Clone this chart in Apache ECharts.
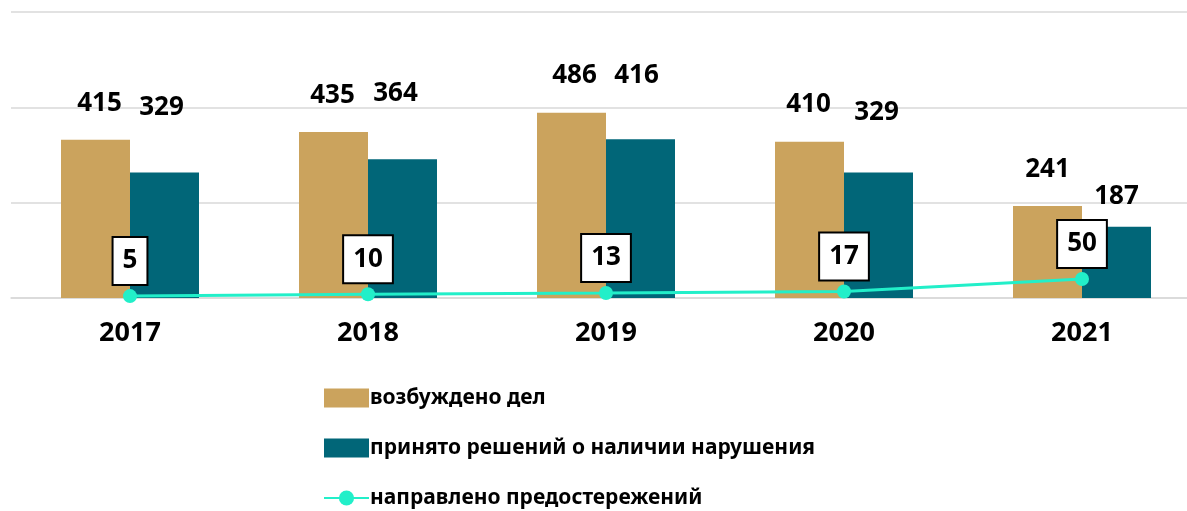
<!DOCTYPE html>
<html>
<head>
<meta charset="utf-8">
<script src="https://cdn.jsdelivr.net/npm/echarts@6/dist/echarts.min.js"></script>
<style>
  html, body { margin: 0; padding: 0; background: #fff; }
  #chart { width: 1187px; height: 511px; }
</style>
</head>
<body>
<div id="chart"></div>
<script>
// данные
const years = ['2017', '2018', '2019', '2020', '2021']
const casesOpened = [415, 435, 486, 410, 241]
const violationDecisions = [329, 364, 416, 329, 187]
const warningsIssued = [5, 10, 13, 17, 50]
const yTicks = [0, 250, 500, 750]

// ручные сдвиги подписей (как в исходнике)
const tanLabelShift = [[4, 23], [-1, 24], [3, 24], [-1, 24], [0, 24]]
const tealLabelShift = [[-3, 52], [-7, 53], [-4, 51], [-2, 47], [0, 17]]

const labelFont = { fontFamily: 'Noto Sans', fontWeight: 'bold', fontSize: 26, color: '#000' }

function barItems (values, shifts) {
  return values.map((v, i) => ({
    value: v,
    label: { distance: shifts[i][1], offset: [shifts[i][0], 0] }
  }))
}

let chart = echarts.init(document.getElementById('chart'))
chart.setOption({
  animation: false,
  grid: { left: 11, right: -14, top: 12, bottom: 213, outerBoundsMode: 'none', containLabel: false },
  legend: {
    orient: 'vertical',
    left: 318,
    top: 379,
    height: 200,
    itemWidth: 45,
    itemHeight: 19,
    itemGap: 22,
    textStyle: { fontFamily: 'Noto Sans', fontWeight: 'bold', fontSize: 21, lineHeight: 28, color: '#000', padding: [0, 0, 0, -4] },
    data: [
      { name: 'возбуждено дел', icon: 'rect' },
      { name: 'принято решений о наличии нарушения', icon: 'rect' },
      { name: 'направлено предостережений' }
    ]
  },
  xAxis: {
    type: 'category',
    data: years,
    axisLine: { show: true, lineStyle: { color: '#d9d9d9', width: 1.5 } },
    axisTick: { show: false },
    axisLabel: { margin: 22, fontFamily: 'Noto Sans', fontWeight: 'bold', fontSize: 27, color: '#000' }
  },
  yAxis: {
    type: 'value',
    min: yTicks[0],
    max: yTicks[yTicks.length - 1],
    interval: 250,
    axisLabel: { show: false },
    axisLine: { show: false },
    axisTick: { show: false },
    splitLine: { lineStyle: { color: '#d9d9d9', width: 1.5 } }
  },
  series: [
    {
      name: 'возбуждено дел',
      type: 'bar',
      barWidth: 69,
      barGap: '0%',
      itemStyle: { color: '#CBA35D' },
      label: Object.assign({ show: true, position: 'top' }, labelFont),
      data: barItems(casesOpened, tanLabelShift)
    },
    {
      name: 'принято решений о наличии нарушения',
      type: 'bar',
      barWidth: 69,
      barGap: '0%',
      itemStyle: { color: '#016678' },
      label: Object.assign({ show: true, position: 'top' }, labelFont),
      data: barItems(violationDecisions, tealLabelShift)
    },
    {
      name: 'направлено предостережений',
      type: 'line',
      symbol: 'circle',
      symbolSize: 14,
      lineStyle: { color: '#22EFC9', width: 3 },
      itemStyle: { color: '#22EFC9' },
      label: Object.assign({
        show: true,
        position: 'top',
        distance: 5,
        backgroundColor: '#fff',
        borderColor: '#000',
        borderWidth: 2,
        padding: [10, 9, 10, 9]
      }, labelFont),
      data: warningsIssued
    }
  ]
})
</script>
</body>
</html>
